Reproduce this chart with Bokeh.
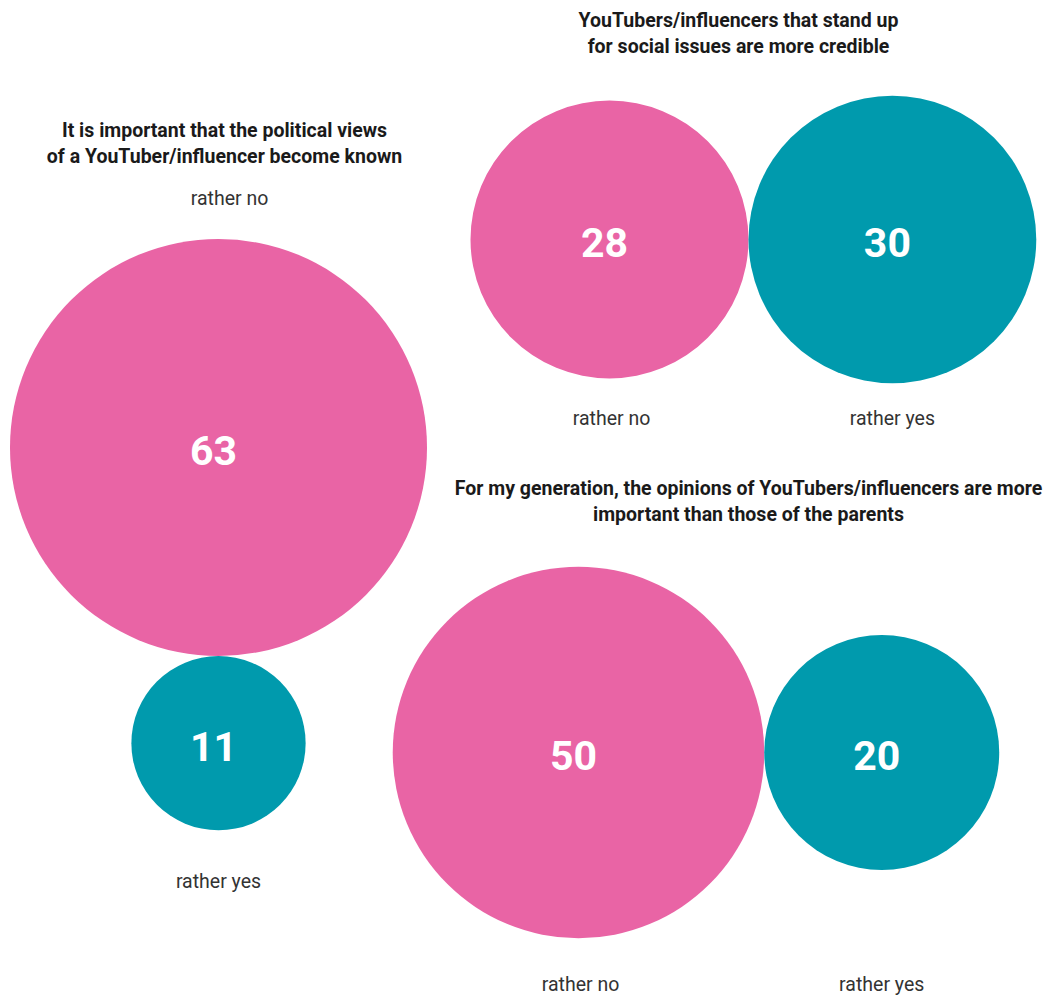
from bokeh.plotting import figure
from bokeh.models import Range1d, ColumnDataSource
from bokeh.core.properties import value
from bokeh.embed import file_html
from bokeh.resources import INLINE
import math

# ---- data ----
titles = [
    "It is important that the political views\nof a YouTuber/influencer become known",
    "YouTubers/influencers that stand up\nfor social issues are more credible",
    "For my generation, the opinions of YouTubers/influencers are more\nimportant than those of the parents",
]
answers = ["rather no", "rather yes"]
values_q1 = [63, 11]
values_q2 = [28, 30]
values_q3 = [50, 20]

PINK = "#E964A5"
TEAL = "#009AAD"
colors = [PINK, TEAL]

# ---- layout ----
W, H = 1062, 997
K = 26.27  # px per sqrt(value): area proportional to value

def rad(v):
    return K * math.sqrt(v)

# group layout: anchor of first circle, direction to the second circle
groups = [
    dict(vals=values_q1, anchor=(218, 447), dirv=(0, 1), title_xy=(224, 130), lab_off=0),
    dict(vals=values_q2, anchor=(609, 239), dirv=(1, 0), title_xy=(738, 20), lab_off=35),
    dict(vals=values_q3, anchor=(578, 752), dirv=(1, 0), title_xy=(748, 488), lab_off=46),
]

p = figure(width=W, height=H, x_range=Range1d(0, W), y_range=Range1d(H, 0),
           output_backend="svg", toolbar_location=None, min_border=0)
p.axis.visible = False
p.grid.visible = False
p.outline_line_color = None
p.background_fill_color = "white"

cx, cy, cr, cc, cv = [], [], [], [], []
lx, ly, lt = [], [], []
tx, ty, tt = [], [], []

for gi, g in enumerate(groups):
    v1, v2 = g["vals"]
    r1, r2 = rad(v1), rad(v2)
    x1, y1 = g["anchor"]
    d = r1 + r2
    x2, y2 = x1 + g["dirv"][0] * d, y1 + g["dirv"][1] * d
    cx += [x1, x2]; cy += [y1, y2]; cr += [r1, r2]; cc += colors; cv += [str(v1), str(v2)]
    # answer labels
    if g["dirv"][1] == 1:  # vertical stack
        lx += [x1 + 11, x2]
        ly += [y1 - r1 - 40, y2 + r2 + 51]
    else:
        base = max(y1 + r1, y2 + r2)
        lx += [x1 + 2, x2]
        ly += [base + g["lab_off"], base + g["lab_off"]]
    lt += answers
    # title lines
    for li, line in enumerate(titles[gi].split("\n")):
        tx.append(g["title_xy"][0]); ty.append(g["title_xy"][1] + li * 26); tt.append(line)

src = ColumnDataSource(dict(x=cx, y=cy, r=cr, c=cc, v=cv))
p.circle(x="x", y="y", radius="r", fill_color="c", line_color=None, source=src)
p.text(x="x", y="y", text="v", source=src, text_color="white", text_font=value("Roboto"),
       text_font_style="bold", text_font_size="41px", text_align="center", text_baseline="middle",
       x_offset=-5, y_offset=3)

p.text(x=lx, y=ly, text=lt, text_color="#333333", text_font=value("Roboto"),
       text_font_size="19.5px", text_align="center", text_baseline="middle")
p.text(x=tx, y=ty, text=tt, text_color="#1a1a1a", text_font=value("Roboto"),
       text_font_style="bold", text_font_size="19.5px", text_align="center", text_baseline="middle")

open("out.html", "w").write(file_html(p, INLINE))
